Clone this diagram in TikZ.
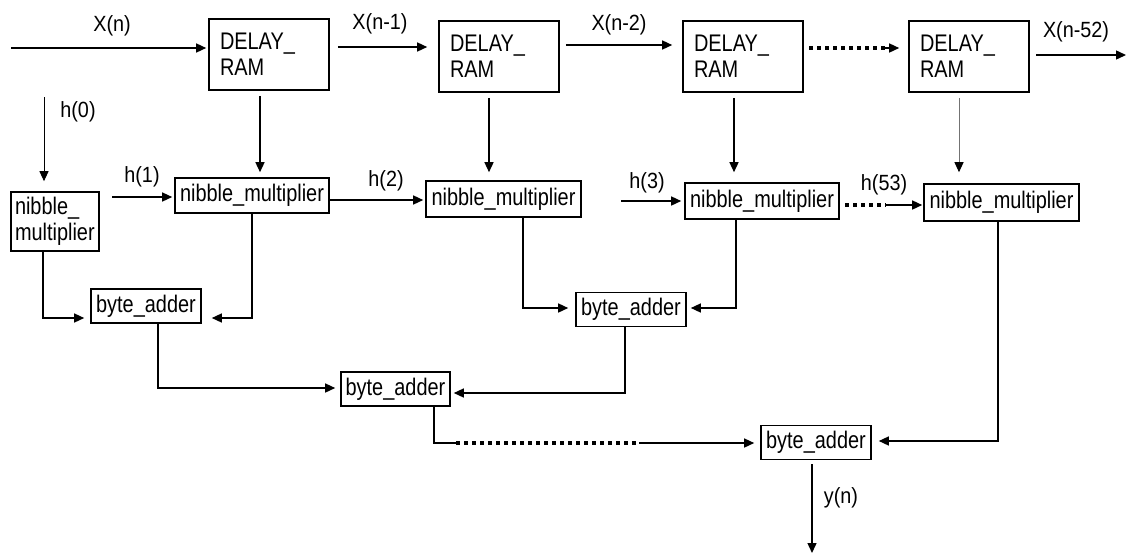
\documentclass[tikz,border=0pt]{standalone}
\usepackage{fontspec}
\setmainfont{Liberation Sans}
\newfontfamily\boxfont[FakeStretch=0.83]{Liberation Sans}
\newfontfamily\lblfont[FakeStretch=0.9]{Liberation Sans}
\usetikzlibrary{arrows.meta}
\begin{document}
\begin{tikzpicture}[x=1pt,y=-1pt,
  box/.style={draw, line width=1.6pt, inner sep=0pt, font=\boxfont\fontsize{24}{26}\selectfont},
  delaybox/.style={box, inner xsep=11pt, text width=98pt, minimum height=71pt, align=left},
  nibbox/.style={box, minimum width=154pt, minimum height=36pt},
  addbox/.style={box, minimum width=110pt, minimum height=34pt},
  lbl/.style={font=\lblfont\fontsize{22}{24}\selectfont, inner sep=0pt},
  wire/.style={line width=1.4pt},
  arr/.style={wire, -{Triangle[length=10pt,width=9pt]}},
  dots/.style={line width=4pt, dash pattern=on 4pt off 4pt}]
\useasboundingbox (0,0) rectangle (1126,555);

% delay RAMs
\node[delaybox] (d1) at (269,54.5) {DELAY\_\\RAM};
\node[delaybox] (d2) at (499,56.5) {DELAY\_\\RAM};
\node[delaybox] (d3) at (743,56.5) {DELAY\_\\RAM};
\node[delaybox] (d4) at (969,56.5) {DELAY\_\\RAM};

% multipliers
\node[box, inner xsep=4pt, text width=80pt, minimum height=59pt, align=left] (n0) at (55,221.5) {nibble\_\\multiplier};
\node[nibbox, minimum height=35pt] (n1) at (252,195.5) {nibble\_multiplier};
\node[nibbox, minimum width=155pt] (n2) at (503.5,199) {nibble\_multiplier};
\node[nibbox] (n3) at (762,201) {nibble\_multiplier};
\node[nibbox, minimum width=155pt, minimum height=37pt] (n4) at (1001.5,202.5) {nibble\_multiplier};

% adders
\node[addbox] (b1) at (146,306) {byte\_adder};
\node[addbox] (bm) at (631,309.5) {byte\_adder};
\node[addbox, minimum width=109pt] (b2) at (395.5,389) {byte\_adder};
\node[addbox] (b3) at (816,442.5) {byte\_adder};

% labels
\node[lbl] (lxn)  at (112,26)  {X(n)};
\node[lbl] (lxn1) at (380,24)  {X(n-1)};
\node[lbl] (lxn2) at (619,25)  {X(n-2)};
\node[lbl] (lxn52) at (1076,32) {X(n-52)};
\node[lbl] (lh0) at (78,112)  {h(0)};
\node[lbl] (lh1) at (142,177) {h(1)};
\node[lbl] (lh2) at (386,181) {h(2)};
\node[lbl] (lh3) at (647,183) {h(3)};
\node[lbl] (lh53) at (884,185) {h(53)};
\node[lbl] (lyn) at (841,498) {y(n)};

% helper coordinates
\coordinate (in) at (11,48);
\coordinate (r1) at (0,47);
\coordinate (r2) at (0,45);
\coordinate (r3) at (809,48);
\coordinate (p3) at (884,48);
\coordinate (r4) at (1036,55);
\coordinate (out) at (1126,55);
\coordinate (h0) at (44,97);
\coordinate (h1) at (112,197);
\coordinate (r5) at (0,200);
\coordinate (h3) at (621,201);
\coordinate (r6) at (845,205);
\coordinate (p6) at (886,205);
\coordinate (v1) at (260,0);
\coordinate (v2) at (489,0);
\coordinate (v3) at (734,0);
\coordinate (v4) at (959,0);
\coordinate (k1) at (43,318);
\coordinate (k2) at (252,318);
\coordinate (k3) at (523,308);
\coordinate (k4) at (736,308);
\coordinate (k5) at (158,388);
\coordinate (k6) at (625,393);
\coordinate (k7) at (434,443);
\coordinate (k7a) at (456,443);
\coordinate (k7b) at (639,443);
\coordinate (k8) at (998,441);
\coordinate (yout) at (812,553);

% x chain
\draw[arr, shorten >=2pt] (in) -- (in -| d1.west);
\draw[arr, shorten <=8pt, shorten >=11pt] (d1.east |- r1) -- (d2.west |- r1);
\draw[arr, shorten <=6pt, shorten >=10pt] (d2.east |- r2) -- (d3.west |- r2);
\draw[dots, shorten >=23pt] (r3) -- (r3 -| d4.west);
\draw[arr, shorten >=9pt] (p3) -- (p3 -| d4.west);
\draw[arr] (r4) -- (out);

% delay to multipliers
\draw[arr, shorten <=5pt, shorten >=5pt] (v1 |- d1.south) -- (v1 |- n1.north);
\draw[arr, shorten <=5pt, shorten >=8pt] (v2 |- d2.south) -- (v2 |- n2.north);
\draw[arr, shorten <=5pt, shorten >=10pt] (v3 |- d3.south) -- (v3 |- n3.north);
\draw[arr, draw=black!55, line width=1pt, -{Triangle[length=10pt,width=9pt,color=black]}, shorten <=5pt, shorten >=11pt] (v4 |- d4.south) -- (v4 |- n4.north);

% coefficients
\draw[arr, line width=1pt, shorten >=10pt] (h0) -- (h0 |- n0.north);
\draw[arr, shorten >=2pt] (h1) -- (h1 -| n1.west);
\draw[arr, shorten >=2pt] (n1.east |- r5) -- (n2.west |- r5);
\draw[arr, shorten >=3pt] (h3) -- (h3 -| n3.west);
\draw[dots, shorten >=38pt] (r6) -- (r6 -| n4.west);
\draw[arr, shorten >=1pt] (p6) -- (p6 -| n4.west);

% adder tree
\draw[arr, shorten >=6pt] (k1 |- n0.south) -- (k1) -- (k1 -| b1.west);
\draw[arr, shorten >=10pt] (k2 |- n1.south) -- (k2) -- (k2 -| b1.east);
\draw[arr, shorten >=7pt] (k3 |- n2.south) -- (k3) -- (k3 -| bm.west);
\draw[arr, shorten >=4pt] (k4 |- n3.south) -- (k4) -- (k4 -| bm.east);
\draw[arr, shorten >=5pt] (k5 |- b1.south) -- (k5) -- (k5 -| b2.west);
\draw[arr, shorten >=3pt] (k6 |- bm.south) -- (k6) -- (k6 -| b2.east);
\draw[wire] (k7 |- b2.south) -- (k7) -- (k7a);
\draw[dots] (k7a) -- (k7b);
\draw[arr, shorten >=6pt] (k7b) -- (k7b -| b3.west);
\draw[arr, shorten >=7pt] (k8 |- n4.south) -- (k8) -- (k8 -| b3.east);
\draw[arr, shorten <=4pt] (yout |- b3.south) -- (yout);
\end{tikzpicture}
\end{document}
